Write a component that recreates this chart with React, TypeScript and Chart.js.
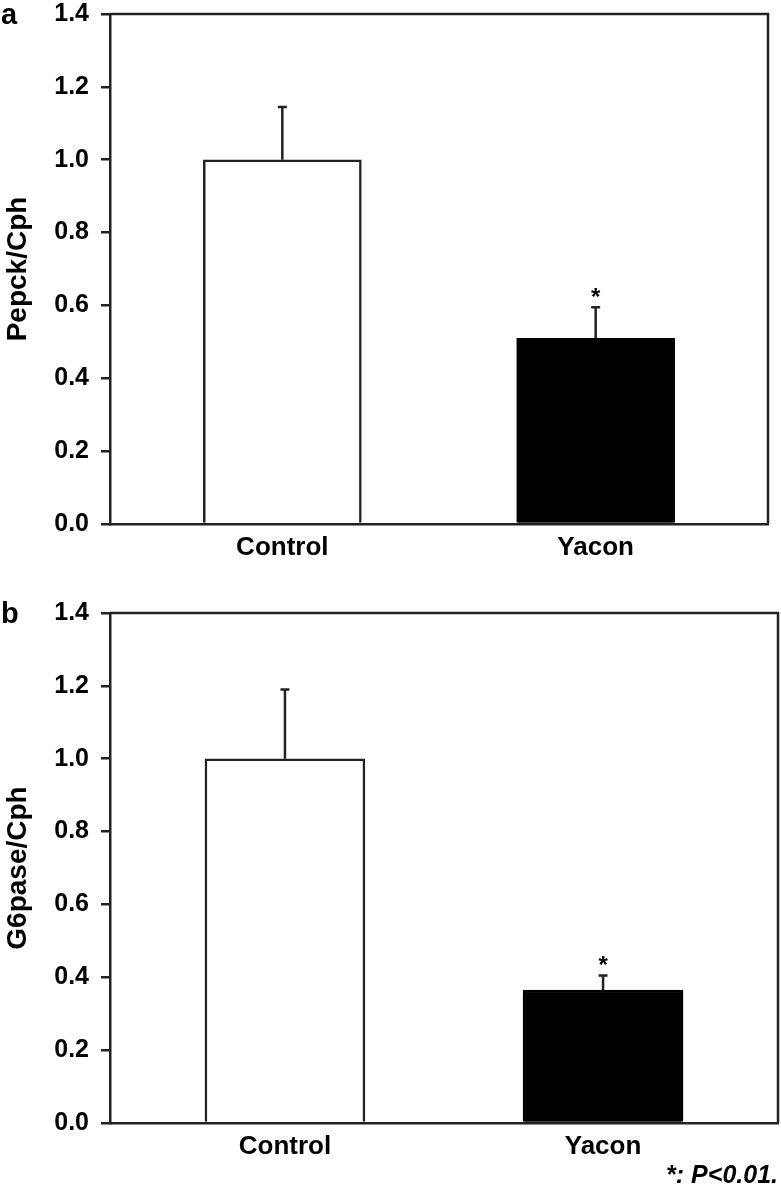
import React, { useEffect, useRef } from "react";
import { Chart, registerables } from "chart.js";

Chart.register(...registerables);

// ---- data ----
const categories = ["Control", "Yacon"];
const xPositions = [0, 1];
const pepckMeans = [1.0, 0.51];
const pepckErrors = [0.145, 0.085];
const g6paseMeans = [1.0, 0.365];
const g6paseErrors = [0.19, 0.04];
const significance = ["", "*"];
const barFill = ["#ffffff", "#000000"];
const barEdge = ["#222222", "#000000"];
const yMin = 0;
const yMax = 1.4;
const yStep = 0.2;
const footnote = "*: P<0.01.";

const FONT = '"Liberation Sans", Arial, Helvetica, sans-serif';
const INK = "#222222";
const TEXT = "#000000";

type PanelProps = {
  means: number[];
  errors: number[];
  yTitle: string;
  top: number;
  height: number;
  padTop: number;
  padRight: number;
  xAxisHeight: number;
  barWidth: number;
};

function Panel(props: PanelProps) {
  const ref = useRef<HTMLCanvasElement | null>(null);
  useEffect(() => {
    const canvas = ref.current;
    if (!canvas) return;
    const { means, errors } = props;

    const framePlugin = {
      id: "frame",
      afterDraw(chart: any) {
        const { ctx, chartArea } = chart;
        ctx.save();
        ctx.strokeStyle = INK;
        ctx.lineWidth = 2.5;
        ctx.beginPath();
        ctx.moveTo(chartArea.left, chartArea.top);
        ctx.lineTo(chartArea.right, chartArea.top);
        ctx.lineTo(chartArea.right, chartArea.bottom);
        ctx.stroke();
        ctx.restore();
      },
    };

    const errorPlugin = {
      id: "errors",
      afterDatasetsDraw(chart: any) {
        const { ctx } = chart;
        const xs = chart.scales.x;
        const ys = chart.scales.y;
        ctx.save();
        ctx.strokeStyle = INK;
        ctx.lineWidth = 2.5;
        xPositions.forEach((xv, i) => {
          const x = xs.getPixelForValue(xv);
          const yb = ys.getPixelForValue(means[i]);
          const yt = ys.getPixelForValue(means[i] + errors[i]);
          ctx.beginPath();
          ctx.moveTo(x, yb);
          ctx.lineTo(x, yt);
          ctx.moveTo(x - 4.5, yt);
          ctx.lineTo(x + 4.5, yt);
          ctx.stroke();
          if (significance[i]) {
            const fs = 24;
            ctx.fillStyle = TEXT;
            ctx.font = `bold ${fs}px ${FONT}`;
            ctx.textAlign = "center";
            ctx.textBaseline = "alphabetic";
            ctx.fillText(significance[i], x, yt - 16 + 0.58 * fs);
          }
        });
        ctx.restore();
      },
    };

    const chart = new Chart(canvas, {
      type: "bar",
      data: {
        datasets: [
          {
            data: xPositions.map((x, i) => ({ x, y: means[i] })) as any,
            backgroundColor: barFill,
            borderColor: barEdge,
            borderWidth: 2.5,
            barThickness: props.barWidth,
          },
        ],
      },
      options: {
        animation: false,
        responsive: false,
        maintainAspectRatio: false,
        layout: {
          padding: { top: props.padTop, right: props.padRight, left: 0, bottom: 0 },
        },
        plugins: {
          legend: { display: false },
          tooltip: { enabled: false },
        },
        scales: {
          x: {
            type: "linear",
            min: -0.55,
            max: 1.55,
            offset: false,
            grid: { display: false, drawTicks: false },
            border: { display: true, color: INK, width: 2.5 },
            ticks: {
              autoSkip: false,
              maxRotation: 0,
              padding: 8,
              color: TEXT,
              font: { family: FONT, size: 26, weight: "bold" },
              callback: (v: any) => {
                const idx = xPositions.indexOf(Number(v));
                return idx >= 0 ? categories[idx] : "";
              },
            },
            afterBuildTicks: (s: any) => {
              s.ticks = xPositions.map((v) => ({ value: v }));
            },
            afterFit: (s: any) => {
              s.height = props.xAxisHeight;
            },
          } as any,
          y: {
            min: yMin,
            max: yMax,
            grid: {
              display: true,
              drawOnChartArea: false,
              drawTicks: true,
              tickLength: 9,
              lineWidth: 2.5,
              color: INK,
            },
            border: { display: true, color: INK, width: 2.5 },
            ticks: {
              stepSize: yStep,
              padding: 12,
              color: TEXT,
              font: { family: FONT, size: 25, weight: "bold" },
              callback: (v: any) => Number(v).toFixed(1),
            },
            title: {
              display: true,
              text: props.yTitle,
              color: TEXT,
              font: { family: FONT, size: 28, weight: "bold" },
              padding: { top: 1, bottom: 0 },
            },
            afterFit: (s: any) => {
              s.width = 110;
            },
          } as any,
        },
      },
      plugins: [framePlugin, errorPlugin],
    });
    return () => chart.destroy();
  }, []);

  return (
    <canvas
      ref={ref}
      width={781}
      height={props.height}
      style={{ position: "absolute", left: 0, top: props.top, width: 781, height: props.height }}
    />
  );
}

const letterStyle: React.CSSProperties = {
  position: "absolute",
  left: 1,
  fontFamily: FONT,
  fontWeight: "bold",
  fontSize: 29,
  lineHeight: "28px",
  color: TEXT,
};

export default function App() {
  return (
    <div
      style={{
        position: "absolute",
        left: 0,
        top: 0,
        width: 781,
        height: 1195,
        overflow: "hidden",
        background: "#ffffff",
      }}
    >
      <Panel
        means={pepckMeans}
        errors={pepckErrors}
        yTitle="Pepck/Cph"
        top={-20}
        height={620}
        padTop={34}
        padRight={13}
        xAxisHeight={76}
        barWidth={158}
      />
      <Panel
        means={g6paseMeans}
        errors={g6paseErrors}
        yTitle="G6pase/Cph"
        top={580}
        height={615}
        padTop={33}
        padRight={3}
        xAxisHeight={72}
        barWidth={160}
      />
      <div style={{ ...letterStyle, top: 0 }}>a</div>
      <div style={{ ...letterStyle, top: 599 }}>b</div>
      <div
        style={{
          position: "absolute",
          right: 3,
          top: 1162,
          fontFamily: FONT,
          fontWeight: "bold",
          fontStyle: "italic",
          fontSize: 25,
          lineHeight: "25px",
          color: TEXT,
          whiteSpace: "nowrap",
        }}
      >
        {footnote}
      </div>
    </div>
  );
}
